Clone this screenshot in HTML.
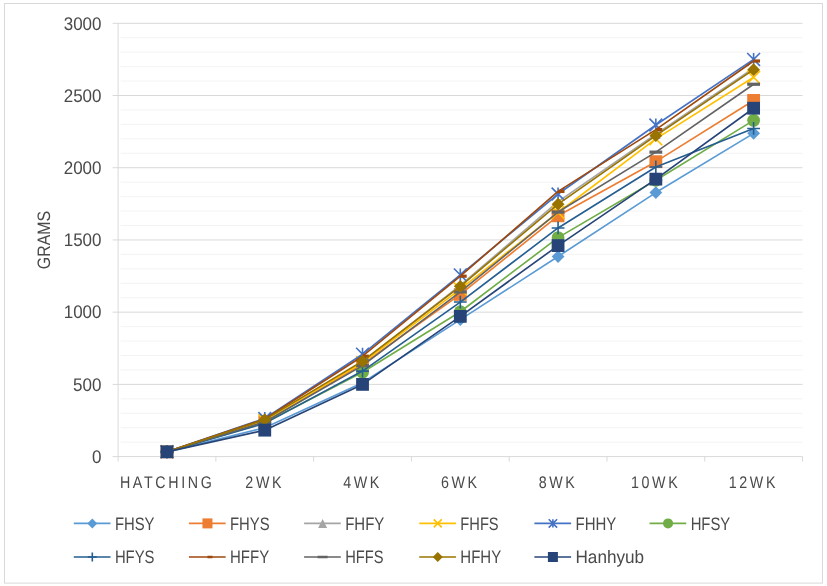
<!DOCTYPE html>
<html lang="en"><head><meta charset="utf-8"><title>Body weight by week (grams)</title>
<style>html,body{margin:0;padding:0;background:#fff}body{width:827px;height:586px;overflow:hidden}svg{display:block}text{font-family:"Liberation Sans",sans-serif;fill:#4a4a4a;text-rendering:geometricPrecision}</style>
</head><body>
<svg width="827" height="586" viewBox="0 0 827 586">
<rect x="0" y="0" width="827" height="586" fill="#ffffff"/>
<rect x="4.5" y="3.5" width="818" height="579.6" fill="none" stroke="#d9d9d9" stroke-width="1"/>
<path d="M120.6 442.16H802.5M120.6 427.71H802.5M120.6 413.27H802.5M120.6 398.83H802.5M120.6 369.94H802.5M120.6 355.5H802.5M120.6 341.05H802.5M120.6 326.61H802.5M120.6 297.72H802.5M120.6 283.28H802.5M120.6 268.84H802.5M120.6 254.39H802.5M120.6 225.51H802.5M120.6 211.06H802.5M120.6 196.62H802.5M120.6 182.18H802.5M120.6 153.29H802.5M120.6 138.85H802.5M120.6 124.4H802.5M120.6 109.96H802.5M120.6 81.07H802.5M120.6 66.63H802.5M120.6 52.19H802.5M120.6 37.74H802.5" stroke="#f0f0f0" stroke-width="0.8" fill="none"/>
<path d="M112.6 456.6H802.5M112.6 384.38H802.5M112.6 312.17H802.5M112.6 239.95H802.5M112.6 167.73H802.5M112.6 95.52H802.5M112.6 23.3H802.5" stroke="#d9d9d9" stroke-width="1" fill="none"/>
<path d="M118.1 23.3V456.6" stroke="#d9d9d9" stroke-width="1" fill="none"/>
<path d="M118.1 456.6V461.6M215.87 456.6V461.6M313.64 456.6V461.6M411.41 456.6V461.6M509.19 456.6V461.6M606.96 456.6V461.6M704.73 456.6V461.6M802.5 456.6V461.6" stroke="#d9d9d9" stroke-width="1" fill="none"/>
<text x="101.5" y="462.9" font-size="18.3" text-anchor="end" textLength="9.5" lengthAdjust="spacingAndGlyphs">0</text>
<text x="101.5" y="390.68" font-size="18.3" text-anchor="end" textLength="28.4" lengthAdjust="spacingAndGlyphs">500</text>
<text x="101.5" y="318.47" font-size="18.3" text-anchor="end" textLength="37.8" lengthAdjust="spacingAndGlyphs">1000</text>
<text x="101.5" y="246.25" font-size="18.3" text-anchor="end" textLength="37.8" lengthAdjust="spacingAndGlyphs">1500</text>
<text x="101.5" y="174.03" font-size="18.3" text-anchor="end" textLength="37.8" lengthAdjust="spacingAndGlyphs">2000</text>
<text x="101.5" y="101.82" font-size="18.3" text-anchor="end" textLength="37.8" lengthAdjust="spacingAndGlyphs">2500</text>
<text x="101.5" y="29.6" font-size="18.3" text-anchor="end" textLength="37.8" lengthAdjust="spacingAndGlyphs">3000</text>
<text transform="translate(49.9 240) rotate(-90)" font-size="18" text-anchor="middle" textLength="58.3" lengthAdjust="spacingAndGlyphs">GRAMS</text>
<text transform="translate(119.89 487.5) scale(0.85 1)" font-size="16.8" letter-spacing="3.1">HATCHING</text>
<text transform="translate(245.36 487.5) scale(0.85 1)" font-size="16.8" letter-spacing="3.1">2WK</text>
<text transform="translate(343.13 487.5) scale(0.85 1)" font-size="16.8" letter-spacing="3.1">4WK</text>
<text transform="translate(440.9 487.5) scale(0.85 1)" font-size="16.8" letter-spacing="3.1">6WK</text>
<text transform="translate(538.67 487.5) scale(0.85 1)" font-size="16.8" letter-spacing="3.1">8WK</text>
<text transform="translate(630.94 487.5) scale(0.85 1)" font-size="16.8" letter-spacing="3.1">10WK</text>
<text transform="translate(728.71 487.5) scale(0.85 1)" font-size="16.8" letter-spacing="3.1">12WK</text>
<polyline points="166.99,451.83 264.76,427.71 362.53,382.65 460.3,319.68 558.07,256.56 655.84,192.58 753.61,133.36" fill="none" stroke="#5B9BD5" stroke-width="1.65" stroke-linejoin="round"/>
<path d="M166.99 445.43L173.39 451.83L166.99 458.23L160.59 451.83Z" fill="#5B9BD5"/>
<path d="M264.76 421.31L271.16 427.71L264.76 434.11L258.36 427.71Z" fill="#5B9BD5"/>
<path d="M362.53 376.25L368.93 382.65L362.53 389.05L356.13 382.65Z" fill="#5B9BD5"/>
<path d="M460.3 313.28L466.7 319.68L460.3 326.08L453.9 319.68Z" fill="#5B9BD5"/>
<path d="M558.07 250.16L564.47 256.56L558.07 262.96L551.67 256.56Z" fill="#5B9BD5"/>
<path d="M655.84 186.18L662.24 192.58L655.84 198.98L649.44 192.58Z" fill="#5B9BD5"/>
<path d="M753.61 126.96L760.01 133.36L753.61 139.76L747.21 133.36Z" fill="#5B9BD5"/>
<polyline points="166.99,451.83 264.76,421.94 362.53,364.16 460.3,294.4 558.07,215.83 655.84,161.67 753.61,100.43" fill="none" stroke="#ED7D31" stroke-width="1.65" stroke-linejoin="round"/>
<rect x="160.59" y="445.43" width="12.8" height="12.8" fill="#ED7D31"/>
<rect x="258.36" y="415.54" width="12.8" height="12.8" fill="#ED7D31"/>
<rect x="356.13" y="357.76" width="12.8" height="12.8" fill="#ED7D31"/>
<rect x="453.9" y="288" width="12.8" height="12.8" fill="#ED7D31"/>
<rect x="551.67" y="209.43" width="12.8" height="12.8" fill="#ED7D31"/>
<rect x="649.44" y="155.27" width="12.8" height="12.8" fill="#ED7D31"/>
<rect x="747.21" y="94.03" width="12.8" height="12.8" fill="#ED7D31"/>
<polyline points="166.99,451.83 264.76,421.21 362.53,362 460.3,285.45 558.07,201.68 655.84,134.22 753.61,68.07" fill="none" stroke="#A5A5A5" stroke-width="1.65" stroke-linejoin="round"/>
<path d="M166.99 447.08L171.74 456.58L162.24 456.58Z" fill="#A5A5A5"/>
<path d="M264.76 416.46L269.51 425.96L260.01 425.96Z" fill="#A5A5A5"/>
<path d="M362.53 357.25L367.28 366.75L357.78 366.75Z" fill="#A5A5A5"/>
<path d="M460.3 280.7L465.05 290.2L455.55 290.2Z" fill="#A5A5A5"/>
<path d="M558.07 196.93L562.82 206.43L553.32 206.43Z" fill="#A5A5A5"/>
<path d="M655.84 129.47L660.59 138.97L651.09 138.97Z" fill="#A5A5A5"/>
<path d="M753.61 63.32L758.36 72.82L748.86 72.82Z" fill="#A5A5A5"/>
<polyline points="166.99,451.83 264.76,420.49 362.53,362.72 460.3,289.06 558.07,212.51 655.84,138.85 753.61,77.32" fill="none" stroke="#FFC000" stroke-width="1.65" stroke-linejoin="round"/>
<path d="M160.59 445.43L173.39 458.23M160.59 458.23L173.39 445.43" stroke="#FFC000" stroke-width="1.6" fill="none"/>
<path d="M258.36 414.09L271.16 426.89M258.36 426.89L271.16 414.09" stroke="#FFC000" stroke-width="1.6" fill="none"/>
<path d="M356.13 356.32L368.93 369.12M356.13 369.12L368.93 356.32" stroke="#FFC000" stroke-width="1.6" fill="none"/>
<path d="M453.9 282.66L466.7 295.46M453.9 295.46L466.7 282.66" stroke="#FFC000" stroke-width="1.6" fill="none"/>
<path d="M551.67 206.11L564.47 218.91M551.67 218.91L564.47 206.11" stroke="#FFC000" stroke-width="1.6" fill="none"/>
<path d="M649.44 132.45L662.24 145.25M649.44 145.25L662.24 132.45" stroke="#FFC000" stroke-width="1.6" fill="none"/>
<path d="M747.21 70.92L760.01 83.72M747.21 83.72L760.01 70.92" stroke="#FFC000" stroke-width="1.6" fill="none"/>
<polyline points="166.99,451.83 264.76,418.47 362.53,354.2 460.3,274.9 558.07,194.02 655.84,124.98 753.61,59.41" fill="none" stroke="#4472C4" stroke-width="1.65" stroke-linejoin="round"/>
<path d="M160.59 445.43L173.39 458.23M160.59 458.23L173.39 445.43M166.99 445.43L166.99 458.23" stroke="#4472C4" stroke-width="1.6" fill="none"/>
<path d="M258.36 412.07L271.16 424.87M258.36 424.87L271.16 412.07M264.76 412.07L264.76 424.87" stroke="#4472C4" stroke-width="1.6" fill="none"/>
<path d="M356.13 347.8L368.93 360.6M356.13 360.6L368.93 347.8M362.53 347.8L362.53 360.6" stroke="#4472C4" stroke-width="1.6" fill="none"/>
<path d="M453.9 268.5L466.7 281.3M453.9 281.3L466.7 268.5M460.3 268.5L460.3 281.3" stroke="#4472C4" stroke-width="1.6" fill="none"/>
<path d="M551.67 187.62L564.47 200.42M551.67 200.42L564.47 187.62M558.07 187.62L558.07 200.42" stroke="#4472C4" stroke-width="1.6" fill="none"/>
<path d="M649.44 118.58L662.24 131.38M649.44 131.38L662.24 118.58M655.84 118.58L655.84 131.38" stroke="#4472C4" stroke-width="1.6" fill="none"/>
<path d="M747.21 53.01L760.01 65.81M747.21 65.81L760.01 53.01M753.61 53.01L753.61 65.81" stroke="#4472C4" stroke-width="1.6" fill="none"/>
<polyline points="166.99,451.83 264.76,422.66 362.53,372.25 460.3,311.73 558.07,237.64 655.84,180.3 753.61,120.36" fill="none" stroke="#70AD47" stroke-width="1.65" stroke-linejoin="round"/>
<circle cx="166.99" cy="451.83" r="6.4" fill="#70AD47"/>
<circle cx="264.76" cy="422.66" r="6.4" fill="#70AD47"/>
<circle cx="362.53" cy="372.25" r="6.4" fill="#70AD47"/>
<circle cx="460.3" cy="311.73" r="6.4" fill="#70AD47"/>
<circle cx="558.07" cy="237.64" r="6.4" fill="#70AD47"/>
<circle cx="655.84" cy="180.3" r="6.4" fill="#70AD47"/>
<circle cx="753.61" cy="120.36" r="6.4" fill="#70AD47"/>
<polyline points="166.99,451.83 264.76,423.38 362.53,371.1 460.3,302.06 558.07,227.96 655.84,167.01 753.61,128.45" fill="none" stroke="#255E91" stroke-width="1.65" stroke-linejoin="round"/>
<path d="M160.59 451.83L173.39 451.83M166.99 445.43L166.99 458.23" stroke="#255E91" stroke-width="1.6" fill="none"/>
<path d="M258.36 423.38L271.16 423.38M264.76 416.98L264.76 429.78" stroke="#255E91" stroke-width="1.6" fill="none"/>
<path d="M356.13 371.1L368.93 371.1M362.53 364.7L362.53 377.5" stroke="#255E91" stroke-width="1.6" fill="none"/>
<path d="M453.9 302.06L466.7 302.06M460.3 295.66L460.3 308.46" stroke="#255E91" stroke-width="1.6" fill="none"/>
<path d="M551.67 227.96L564.47 227.96M558.07 221.56L558.07 234.36" stroke="#255E91" stroke-width="1.6" fill="none"/>
<path d="M649.44 167.01L662.24 167.01M655.84 160.61L655.84 173.41" stroke="#255E91" stroke-width="1.6" fill="none"/>
<path d="M747.21 128.45L760.01 128.45M753.61 122.05L753.61 134.85" stroke="#255E91" stroke-width="1.6" fill="none"/>
<polyline points="166.99,451.83 264.76,419.05 362.53,356.22 460.3,276.2 558.07,191.42 655.84,129.6 753.61,61" fill="none" stroke="#9E480E" stroke-width="1.65" stroke-linejoin="round"/>
<rect x="166.99" y="450.23" width="6.4" height="3.2" fill="#9E480E"/>
<rect x="264.76" y="417.45" width="6.4" height="3.2" fill="#9E480E"/>
<rect x="362.53" y="354.62" width="6.4" height="3.2" fill="#9E480E"/>
<rect x="460.3" y="274.6" width="6.4" height="3.2" fill="#9E480E"/>
<rect x="558.07" y="189.82" width="6.4" height="3.2" fill="#9E480E"/>
<rect x="655.84" y="128" width="6.4" height="3.2" fill="#9E480E"/>
<rect x="753.61" y="59.4" width="6.4" height="3.2" fill="#9E480E"/>
<polyline points="166.99,451.83 264.76,421.94 362.53,365.61 460.3,291.95 558.07,212.07 655.84,152.13 753.61,84.25" fill="none" stroke="#636363" stroke-width="1.65" stroke-linejoin="round"/>
<rect x="160.59" y="450.23" width="12.8" height="3.2" fill="#636363"/>
<rect x="258.36" y="420.34" width="12.8" height="3.2" fill="#636363"/>
<rect x="356.13" y="364.01" width="12.8" height="3.2" fill="#636363"/>
<rect x="453.9" y="290.35" width="12.8" height="3.2" fill="#636363"/>
<rect x="551.67" y="210.47" width="12.8" height="3.2" fill="#636363"/>
<rect x="649.44" y="150.53" width="12.8" height="3.2" fill="#636363"/>
<rect x="747.21" y="82.65" width="12.8" height="3.2" fill="#636363"/>
<polyline points="166.99,451.83 264.76,419.63 362.53,361.13 460.3,286.31 558.07,204.13 655.84,135.67 753.61,69.66" fill="none" stroke="#997300" stroke-width="1.65" stroke-linejoin="round"/>
<path d="M166.99 445.43L173.39 451.83L166.99 458.23L160.59 451.83Z" fill="#997300"/>
<path d="M264.76 413.23L271.16 419.63L264.76 426.03L258.36 419.63Z" fill="#997300"/>
<path d="M362.53 354.73L368.93 361.13L362.53 367.53L356.13 361.13Z" fill="#997300"/>
<path d="M460.3 279.91L466.7 286.31L460.3 292.71L453.9 286.31Z" fill="#997300"/>
<path d="M558.07 197.73L564.47 204.13L558.07 210.53L551.67 204.13Z" fill="#997300"/>
<path d="M655.84 129.27L662.24 135.67L655.84 142.07L649.44 135.67Z" fill="#997300"/>
<path d="M753.61 63.26L760.01 69.66L753.61 76.06L747.21 69.66Z" fill="#997300"/>
<polyline points="166.99,451.83 264.76,430.17 362.53,384.38 460.3,316.36 558.07,245.58 655.84,179.14 753.61,108.23" fill="none" stroke="#264478" stroke-width="1.65" stroke-linejoin="round"/>
<rect x="160.59" y="445.43" width="12.8" height="12.8" fill="#264478"/>
<rect x="258.36" y="423.77" width="12.8" height="12.8" fill="#264478"/>
<rect x="356.13" y="377.98" width="12.8" height="12.8" fill="#264478"/>
<rect x="453.9" y="309.96" width="12.8" height="12.8" fill="#264478"/>
<rect x="551.67" y="239.18" width="12.8" height="12.8" fill="#264478"/>
<rect x="649.44" y="172.74" width="12.8" height="12.8" fill="#264478"/>
<rect x="747.21" y="101.83" width="12.8" height="12.8" fill="#264478"/>
<path d="M73.8 523.4H110.5" stroke="#5B9BD5" stroke-width="1.65" fill="none"/>
<path d="M92.3 518.4L97.3 523.4L92.3 528.4L87.3 523.4Z" fill="#5B9BD5"/>
<text x="114.9" y="529.6" font-size="18" textLength="39.6" lengthAdjust="spacingAndGlyphs">FHSY</text>
<path d="M188.95 523.4H225.65" stroke="#ED7D31" stroke-width="1.65" fill="none"/>
<rect x="202.45" y="518.4" width="10" height="10" fill="#ED7D31"/>
<text x="230.05" y="529.6" font-size="18" textLength="39.6" lengthAdjust="spacingAndGlyphs">FHYS</text>
<path d="M304.1 523.4H340.8" stroke="#A5A5A5" stroke-width="1.65" fill="none"/>
<path d="M322.6 518.9L327.1 527.9L318.1 527.9Z" fill="#A5A5A5"/>
<text x="345.2" y="529.6" font-size="18" textLength="39.1" lengthAdjust="spacingAndGlyphs">FHFY</text>
<path d="M419.25 523.4H455.95" stroke="#FFC000" stroke-width="1.65" fill="none"/>
<path d="M433.75 519.4L441.75 527.4M433.75 527.4L441.75 519.4" stroke="#FFC000" stroke-width="1.6" fill="none"/>
<text x="460.35" y="529.6" font-size="18" textLength="38.3" lengthAdjust="spacingAndGlyphs">FHFS</text>
<path d="M534.4 523.4H571.1" stroke="#4472C4" stroke-width="1.65" fill="none"/>
<path d="M548.7 519.2L557.1 527.6M548.7 527.6L557.1 519.2M552.9 519.2L552.9 527.6" stroke="#4472C4" stroke-width="1.6" fill="none"/>
<text x="575.5" y="529.6" font-size="18" textLength="40.8" lengthAdjust="spacingAndGlyphs">FHHY</text>
<path d="M649.55 523.4H686.25" stroke="#70AD47" stroke-width="1.65" fill="none"/>
<circle cx="668.05" cy="523.4" r="5" fill="#70AD47"/>
<text x="690.65" y="529.6" font-size="18" textLength="39.6" lengthAdjust="spacingAndGlyphs">HFSY</text>
<path d="M73.8 557H110.5" stroke="#255E91" stroke-width="1.65" fill="none"/>
<path d="M87.8 557L96.8 557M92.3 552.5L92.3 561.5" stroke="#255E91" stroke-width="1.6" fill="none"/>
<text x="114.9" y="563.2" font-size="18" textLength="39.6" lengthAdjust="spacingAndGlyphs">HFYS</text>
<path d="M188.95 557H225.65" stroke="#9E480E" stroke-width="1.65" fill="none"/>
<rect x="207.45" y="555.75" width="5" height="2.5" fill="#9E480E"/>
<text x="230.05" y="563.2" font-size="18" textLength="39.1" lengthAdjust="spacingAndGlyphs">HFFY</text>
<path d="M304.1 557H340.8" stroke="#636363" stroke-width="1.65" fill="none"/>
<rect x="317.6" y="555.75" width="10" height="2.5" fill="#636363"/>
<text x="345.2" y="563.2" font-size="18" textLength="38.3" lengthAdjust="spacingAndGlyphs">HFFS</text>
<path d="M419.25 557H455.95" stroke="#997300" stroke-width="1.65" fill="none"/>
<path d="M437.75 552L442.75 557L437.75 562L432.75 557Z" fill="#997300"/>
<text x="460.35" y="563.2" font-size="18" textLength="40.8" lengthAdjust="spacingAndGlyphs">HFHY</text>
<path d="M534.4 557H571.1" stroke="#264478" stroke-width="1.65" fill="none"/>
<rect x="547.9" y="552" width="10" height="10" fill="#264478"/>
<text x="575.5" y="563.2" font-size="18" textLength="68.6" lengthAdjust="spacingAndGlyphs">Hanhyub</text>
</svg></body></html>
